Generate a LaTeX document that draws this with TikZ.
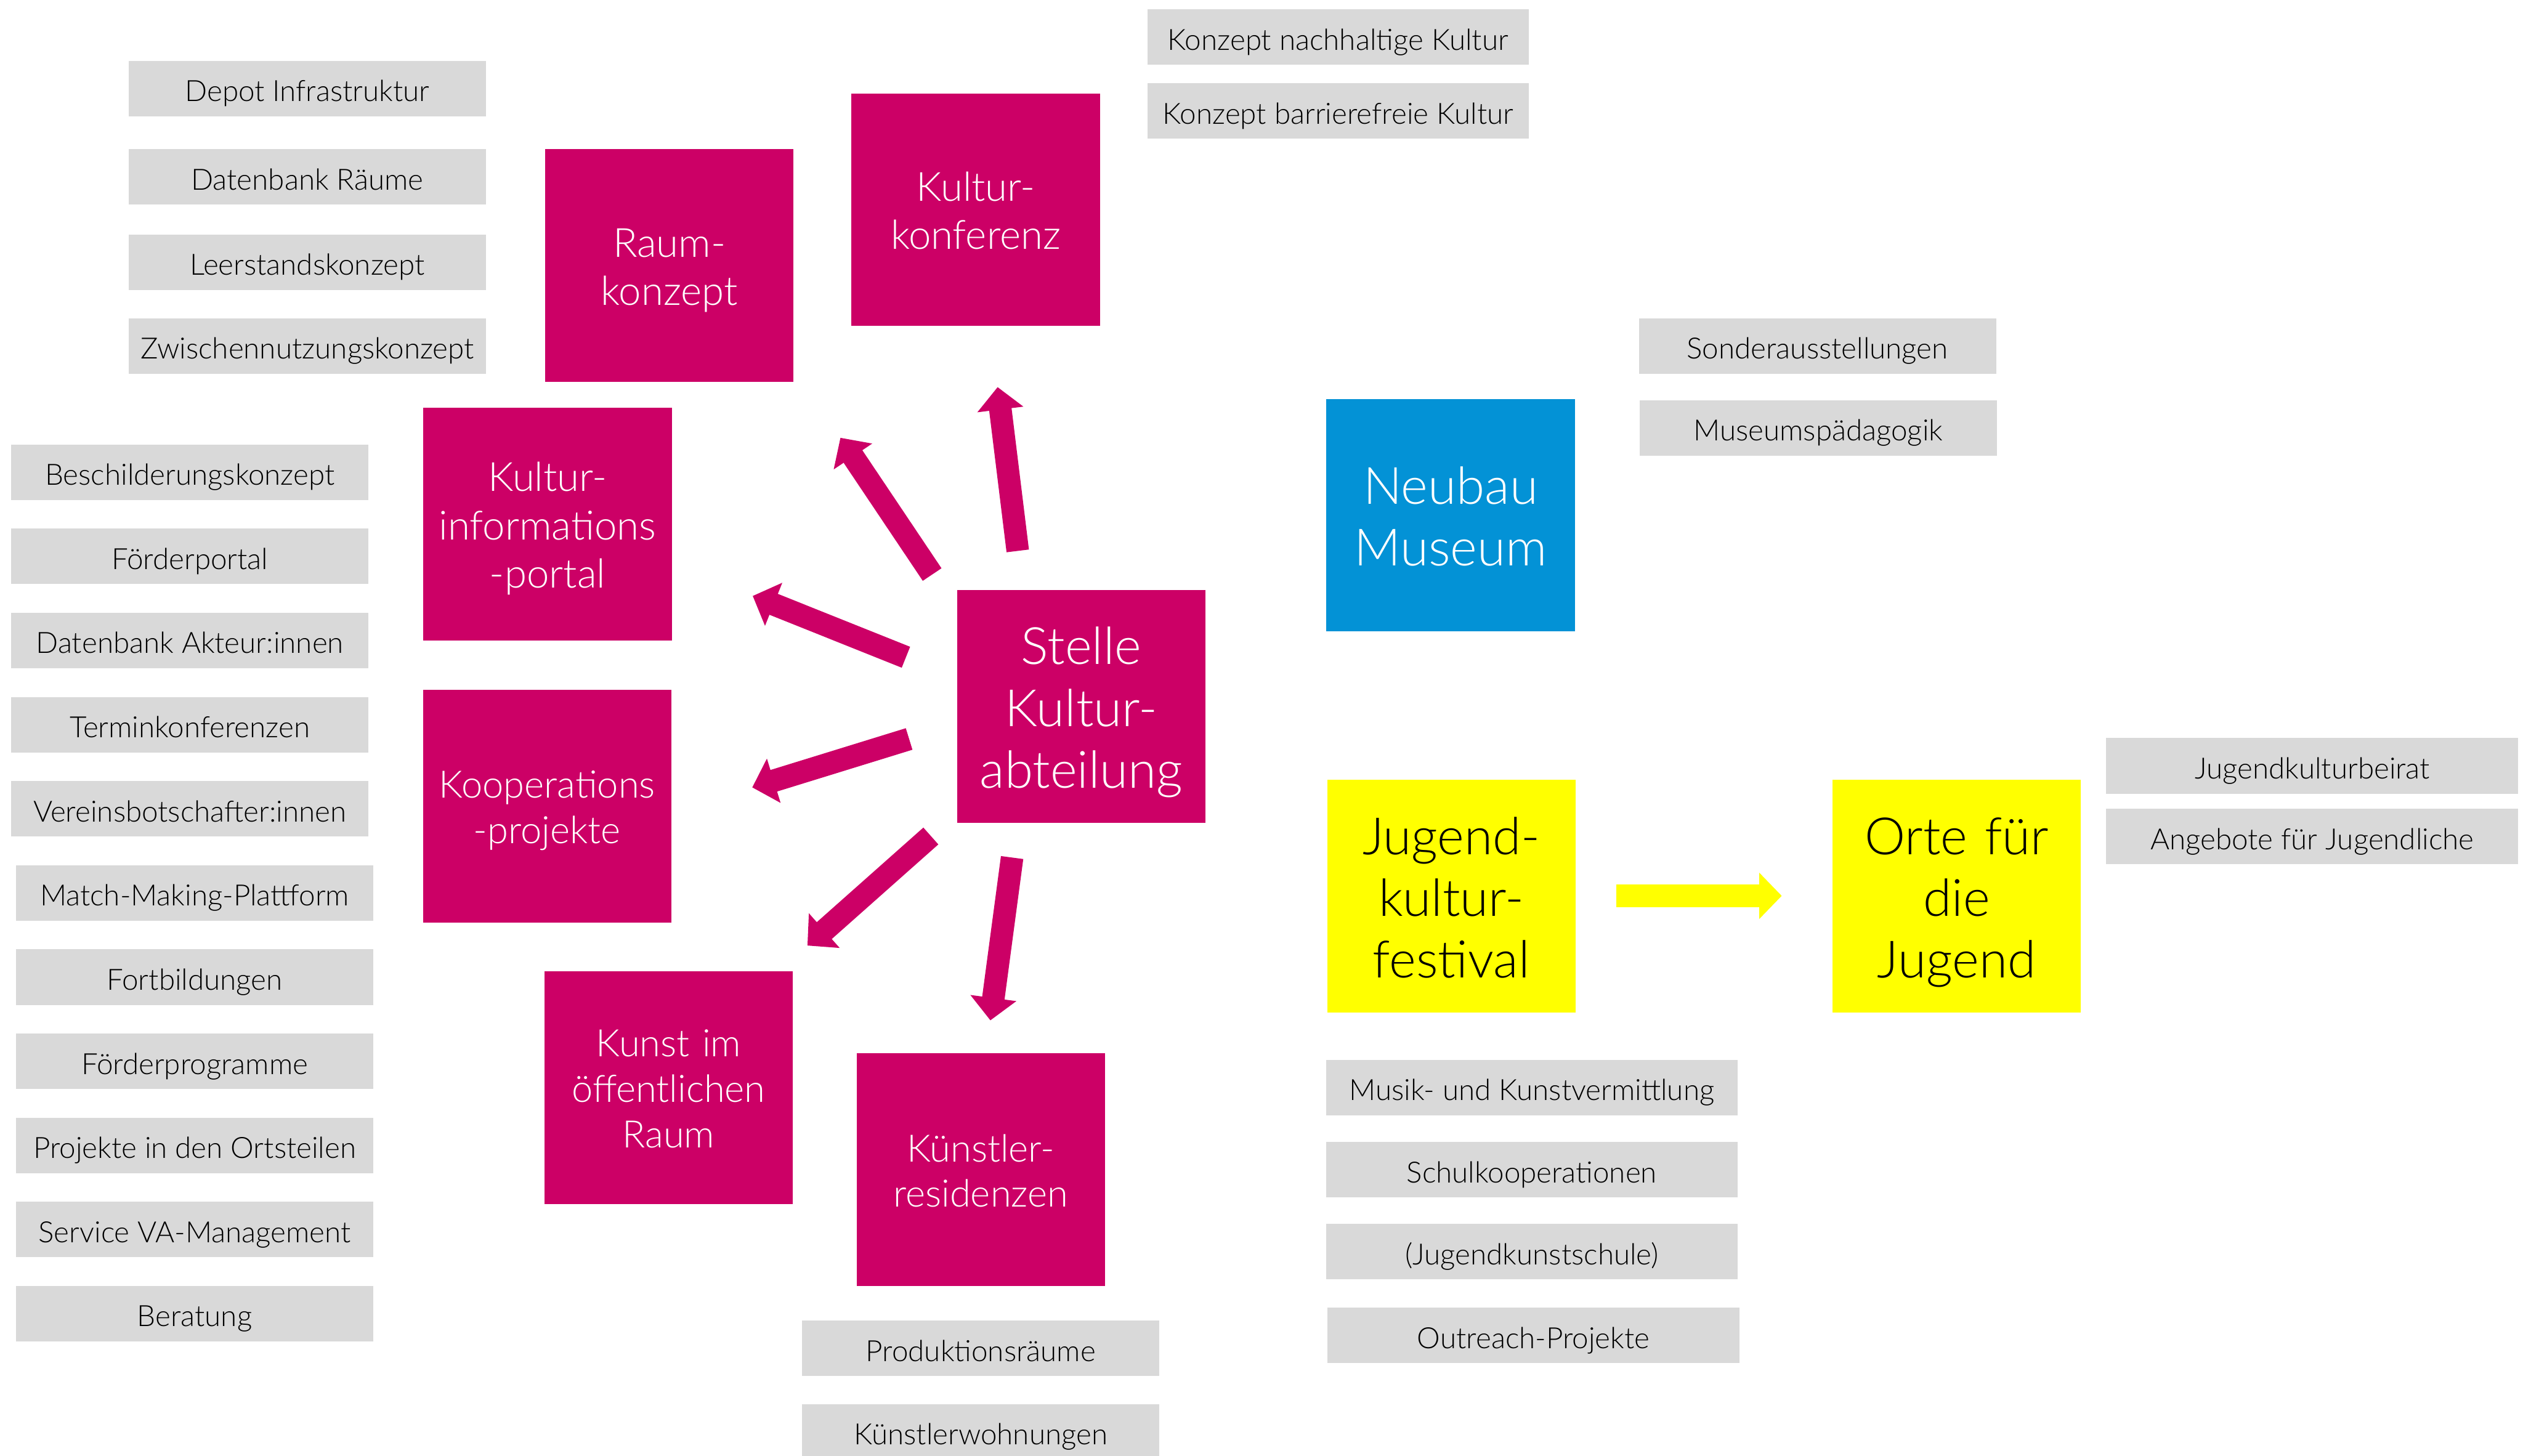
\documentclass[tikz,border=0pt]{standalone}
\usepackage{fontspec}
\IfFontExistsTF{Lato Light}{\setmainfont{Lato Light}}{\setmainfont{Lato}}
\usetikzlibrary{arrows.meta,calc}

\definecolor{kulturmagenta}{HTML}{CC0066}
\definecolor{museumblau}{HTML}{0392D6}
\definecolor{jugendgelb}{HTML}{FFFF00}
\definecolor{listengrau}{HTML}{D9D9D9}

% line strut: one line of Lato (ascender + descender)
\newcommand\zeile{\rule[-0.213em]{0pt}{1.2em}}

\tikzset{
  kachel/.style={inner sep=0pt, minimum width=154.4pt, minimum height=144.6pt,
    text width=154.4pt, align=center,
    execute at begin node=\zeile, execute at end node=\zeile},
  thema/.style={kachel, fill=kulturmagenta, text=white, font=\fontsize{25}{30}\selectfont},
  klein/.style={font=\fontsize{23.5}{28.2}\selectfont},
  zentrale/.style={kachel, fill=kulturmagenta, text=white, font=\fontsize{32}{38.4}\selectfont},
  museum/.style={kachel, fill=museumblau, text=white, font=\fontsize{32}{38.4}\selectfont},
  jugend/.style={kachel, fill=jugendgelb, text=black, font=\fontsize{32}{38.4}\selectfont},
  liste/.style={fill=listengrau, inner sep=0pt, minimum width=222pt, minimum height=34.5pt,
    font=\fontsize{18.2}{21.8}\selectfont, execute at begin node={\rule{0pt}{\dimexpr0.987em+2pt\relax}\zeile}},
  pfeil/.style={line width=14pt, -{Triangle[length=14pt,width=28pt]}},
}

\begin{document}
\begin{tikzpicture}[x=1pt, y=-1pt]
\clip (0,0) rectangle (1568,904.6);
\useasboundingbox (0,0) rectangle (1568,904.6);

% Kacheln
\node[zentrale] (stelle) at (672,439) {Stelle\\Kultur-\\abteilung};
\node[thema] (raum)  at (416,165)     {Raum-\\konzept};
\node[thema] (konf)  at (606.4,130.3) {Kultur-\\konferenz};
\node[thema] (info)  at (340.3,325.7) {Kultur-\\informations\\-portal};
\node[thema, klein] (koop)  at (340,501)     {Kooperations\\-projekte};
\node[thema, klein] (kunst) at (415.5,676)   {Kunst im\\öffentlichen\\Raum};
\node[thema, klein] (resid) at (609.5,727)   {Künstler-\\residenzen};
\node[museum] (neubau) at (901.5,320.2) {Neubau\\Museum};
\node[jugend] (festival) at (902,557) {Jugend-\\kultur-\\festival};
\node[jugend] (orte) at (1216,557) {Orte für\\die\\Jugend};

% Listen
\node[liste] (depot) at (191,55)  {Depot Infrastruktur};
\node[liste] (dbraum) at (191,110) {Datenbank Räume};
\node[liste] (leer)  at (191,163) {Leerstandskonzept};
\node[liste] (zwisch) at (191,215) {Zwischennutzungskonzept};

\node[liste, minimum width=237pt] (nachh) at (831.5,23) {Konzept nachhaltige Kultur};
\node[liste, minimum width=237pt] (barr)  at (831.5,69) {Konzept barrierefreie Kultur};

\node[liste] (sonder) at (1129.5,215) {Sonderausstellungen};
\node[liste] (mpaed)  at (1130,266)   {Museumspädagogik};

\node[liste, minimum width=256pt] (beirat) at (1437,476) {Jugendkulturbeirat};
\node[liste, minimum width=256pt] (angeb)  at (1437,520) {Angebote für Jugendliche};

\node[liste] (schild) at (118,293.5) {Beschilderungskonzept};
\node[liste] (fportal) at (118,345.8) {Förderportal};
\node[liste] (dbakt)  at (118,398.1) {Datenbank Akteur:innen};
\node[liste] (termin) at (118,450.4) {Terminkonferenzen};
\node[liste] (verein) at (118,502.7) {Vereinsbotschafter:innen};
\node[liste] (match)  at (121,555)   {Match-Making-Plattform};
\node[liste] (fortb)  at (121,607.3) {Fortbildungen};
\node[liste] (fprog)  at (121,659.6) {Förderprogramme};
\node[liste] (ortst)  at (121,711.9) {Projekte in den Ortsteilen};
\node[liste] (vaman)  at (121,764.2) {Service VA-Management};
\node[liste] (berat)  at (121,816.5) {Beratung};

\node[liste] (prod)   at (609.5,838) {Produktionsräume};
\node[liste] (wohn)   at (609.5,890) {Künstlerwohnungen};

\node[liste, minimum width=256pt] (musik)  at (952,676) {Musik- und Kunstvermittlung};
\node[liste, minimum width=256pt] (schule) at (952,727) {Schulkooperationen};
\node[liste, minimum width=256pt] (jks)    at (952,778) {(Jugendkunstschule)};
\node[liste, minimum width=256pt] (outr)   at (953,830) {Outreach-Projekte};

% Pfeile
\coordinate (s1) at ($(stelle)+(-39.5,-96.6)$);
\coordinate (s2) at ($(stelle)+(-92.7,-81.9)$);
\coordinate (s3) at ($(stelle)+(-109,-30.5)$);
\coordinate (s4) at ($(stelle)+(-107,20.3)$);
\coordinate (s5) at ($(stelle)+(-93.5,80.6)$);
\coordinate (s6) at ($(stelle)+(-43,94)$);
\coordinate (z1) at ($(konf)+(13.6,110.3)$);
\coordinate (z2) at ($(raum)+(106.3,107.1)$);
\coordinate (z3) at ($(info)+(127.5,44.7)$);
\coordinate (z4) at ($(koop)+(127.5,-11.6)$);
\coordinate (z5) at ($(kunst)+(86.3,-88.3)$);
\coordinate (z6) at ($(resid)+(6,-92.8)$);
\foreach \i in {1,...,6}
  \draw[pfeil, kulturmagenta] (s\i) -- (z\i);

\coordinate (f1) at ($(festival)+(102.4,-0.2)$);
\coordinate (f2) at ($(orte)+(-108.7,-0.2)$);
\draw[pfeil, jugendgelb] (f1) -- (f2);
\end{tikzpicture}
\end{document}
